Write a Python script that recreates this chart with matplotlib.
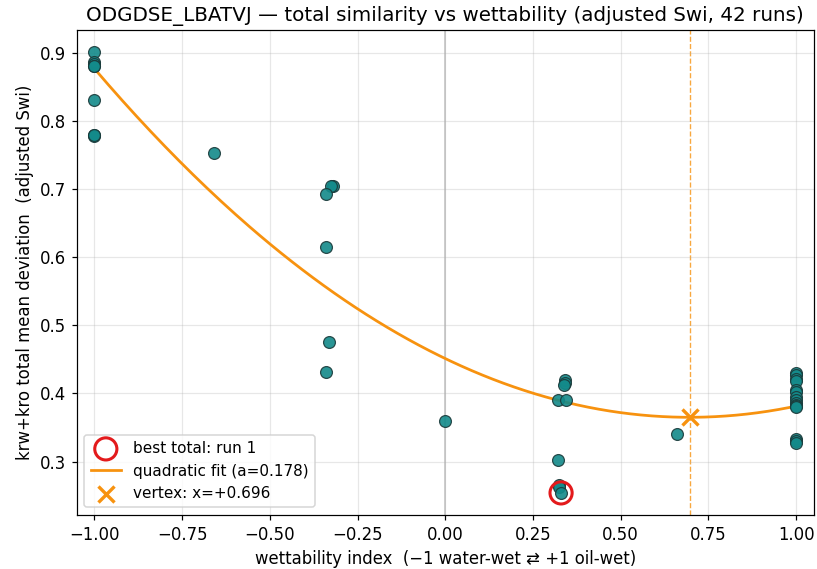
import numpy as np
import matplotlib.pyplot as plt

# wettability index per run and total mean deviation (adjusted Swi)
wett = [-1.0, -1.0, -1.0, -1.0, -1.0, -1.0, -1.0, -1.0, -1.0,
        -0.66,
        -0.32, -0.325, -0.34, -0.34, -0.33, -0.34,
        0.0,
        0.34, 0.34, 0.338, 0.322, 0.345, 0.322, 0.323, 0.325, 0.33,
        0.66,
        1.0, 1.0, 1.0, 1.0, 1.0, 1.0, 1.0, 1.0, 1.0, 1.0, 1.0, 1.0, 1.0, 1.0, 1.0]
total_dev = [0.901, 0.886, 0.884, 0.881, 0.880, 0.831, 0.779, 0.778, 0.780,
             0.753,
             0.705, 0.704, 0.693, 0.615, 0.476, 0.431,
             0.360,
             0.420, 0.416, 0.413, 0.391, 0.391, 0.302, 0.265, 0.262, 0.254,
             0.340,
             0.430, 0.427, 0.421, 0.418, 0.405, 0.402, 0.395, 0.390, 0.386,
             0.383, 0.381, 0.380, 0.333, 0.330, 0.328]

best_run = 1
best_x, best_y = 0.33, 0.254

# quadratic fit coefficients y = a*x^2 + b*x + c
fit_a = 0.178
vertex_x = 0.696
vertex_y = 0.365
fit_b = -2 * fit_a * vertex_x
fit_c = vertex_y + fit_a * vertex_x ** 2

dpi = 110
fig, ax = plt.subplots(figsize=(817 / dpi, 569 / dpi), dpi=dpi)
fig.subplots_adjust(left=0.094, right=0.996, top=0.947, bottom=0.095)

ax.axvline(0, color='grey', lw=1, alpha=0.5, zorder=1)
ax.scatter(wett, total_dev, s=60, color='#138a8a', edgecolor='#1a3a3a', lw=0.8, alpha=0.9, zorder=3)

ax.scatter([best_x], [best_y], s=210, facecolor='none', edgecolor='#e31a1c', lw=2.0, zorder=4,
           label=f"best total: run {best_run}")

xs = np.linspace(-1, 1, 200)
ax.plot(xs, fit_a * xs ** 2 + fit_b * xs + fit_c, color='#f7920f', lw=1.8, zorder=2,
        label=f"quadratic fit (a={fit_a:.3f})")
ax.axvline(vertex_x, color='#f7920f', lw=0.9, ls='--', alpha=0.8, zorder=1)
ax.scatter([vertex_x], [vertex_y], marker='x', s=110, color='#f7920f', lw=2.2, zorder=5,
           label=f"vertex: x={vertex_x:+.3f}")

ax.set_xlim(-1.05, 1.05)
ax.grid(True, alpha=0.3)
ax.set_xlabel("wettability index  (\u22121 water-wet \u21c4 +1 oil-wet)", fontsize=10.8)
ax.set_ylabel("krw+kro total mean deviation  (adjusted Swi)", fontsize=10.8)
ax.set_title("ODGDSE_LBATVJ \u2014 total similarity vs wettability (adjusted Swi, 42 runs)", fontsize=13)
ax.tick_params(labelsize=10.8)
ax.legend(loc='lower left', fontsize=10)

plt.savefig("out.png", dpi=dpi)
